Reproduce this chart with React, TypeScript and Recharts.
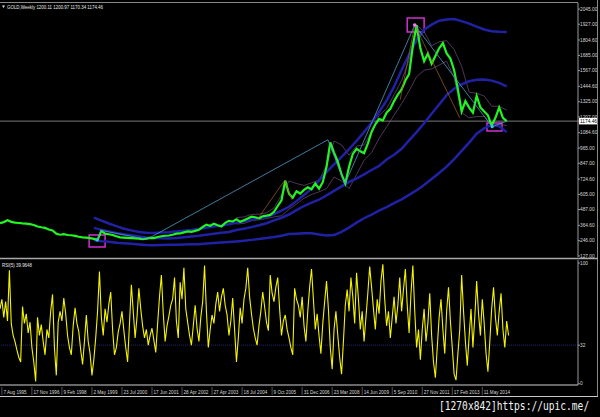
import React from "react";
import {
  ComposedChart,
  Line,
  XAxis,
  YAxis,
  ReferenceLine,
  ReferenceArea,
  ReferenceDot,
} from "recharts";

// weekly gold, one sample every 8 bars
const PRICE_STEP = 8;
const priceClose = [
  382, 390, 404, 392, 386, 383, 380, 378, 374, 368, 356, 350, 345, 332, 325, 300,
  292, 296, 290, 288, 283, 276, 272, 270, 266, 260, 252, 322, 300, 296, 290, 280,
  272, 270, 268, 266, 264, 262, 258, 262, 268, 266, 274, 280, 284, 286, 292, 300,
  302, 310, 318, 314, 322, 330, 352, 370, 362, 378, 366, 356, 384, 400, 395, 412,
  392, 405, 418, 432, 428, 420, 436, 440, 446, 470, 515, 560, 712, 610, 580, 630,
  612, 640, 660, 645, 690, 650, 700, 820, 1010, 930, 860, 760, 690, 820, 920, 960,
  940, 925, 1000, 1090, 1150, 1190, 1180, 1240, 1270, 1330, 1380, 1420, 1490, 1540, 1760, 1920,
  1740, 1640, 1700, 1620, 1680, 1740, 1780, 1700, 1660, 1570, 1420, 1250, 1330, 1280, 1240, 1370,
  1280, 1250, 1220, 1140, 1200, 1280, 1200, 1174,
];

// long bands (thick blue), every 16 bars from bar 200
const BAND_START = 200;
const BAND_STEP = 16;
const bandUpper = [
  425, 402, 379, 359, 339, 326, 314, 308, 306, 309, 312, 317, 323, 329, 338, 347,
  356, 364, 373, 385, 396, 408, 419, 431, 452, 480, 509, 553, 600, 650, 714, 778,
  839, 897, 956, 1021, 1090, 1159, 1246, 1334, 1442, 1571, 1692, 1803, 1884, 1924, 1955, 1963,
  1967, 1951, 1932, 1909, 1886, 1873, 1868, 1866,
];
const bandMiddle = [
  345, 330, 318, 306, 296, 288, 279, 270, 267, 264, 262, 267, 273, 278, 284, 291,
  299, 307, 314, 328, 339, 351, 365, 381, 403, 424, 449, 483, 515, 541, 564, 598,
  633, 668, 703, 728, 761, 795, 827, 876, 913, 960, 1025, 1089, 1158, 1231, 1304, 1376,
  1426, 1461, 1484, 1496, 1497, 1489, 1472, 1445,
];
const bandLower = [
  251, 242, 237, 230, 225, 221, 217, 213, 211, 213, 214, 215, 217, 218, 219, 223,
  228, 232, 236, 240, 245, 252, 258, 266, 274, 284, 297, 300, 303, 304, 294, 286,
  289, 315, 347, 386, 420, 449, 479, 507, 537, 567, 602, 637, 678, 725, 772, 821,
  879, 944, 1007, 1076, 1118, 1147, 1135, 1089,
];

// short bands (thin lines), every 16 bars from bar 504
const BB20_START = 504;
const bb20Upper = [
  425, 430, 450, 452, 462, 500, 600, 710, 690, 675, 695, 715, 830, 1020, 990, 910,
  980, 990, 1090, 1220, 1270, 1380, 1490, 1650, 1920, 1870, 1760, 1790, 1800, 1730, 1600, 1400,
  1390, 1370, 1290, 1290, 1260,
];
const bb20Lower = [
  375, 380, 400, 408, 418, 430, 440, 490, 530, 575, 605, 625, 650, 740, 710, 650,
  760, 870, 930, 1040, 1130, 1220, 1310, 1410, 1520, 1570, 1580, 1610, 1640, 1510, 1240, 1200,
  1210, 1210, 1150, 1150, 1140,
];

// zigzag swings
const zigzagBars = [207, 215, 313, 699, 735, 884, 1049, 1080];
const zigzagPrices = [252, 326, 256, 1030, 685, 1921, 1131, 1174];
const orangeBarsA = [550, 607, 622];
const orangePricesA = [418, 716, 565];
const orangeBarsB = [853, 884, 980];
const orangePricesB = [1340, 1921, 1200];

// RSI(5), one sample every 4 bars
const RSI_STEP = 4;
const rsiValues = [
  62, 70, 55, 68, 52, 94, 50, 40, 35, 28, 22, 18, 64, 50, 58, 42,
  51, 30, 18, 2, 55, 40, 49, 35, 24, 45, 38, 60, 74, 30, 7, 51,
  60, 52, 71, 58, 40, 30, 24, 48, 63, 50, 43, 28, 16, 35, 57, 35,
  25, 7, 20, 38, 60, 93, 55, 40, 62, 51, 66, 76, 45, 24, 30, 43,
  50, 60, 44, 30, 18, 50, 82, 60, 38, 55, 79, 62, 48, 38, 45, 32,
  40, 46, 36, 26, 50, 72, 90, 58, 35, 48, 56, 65, 70, 88, 52, 38,
  84, 70, 96, 62, 51, 40, 32, 48, 65, 46, 35, 55, 68, 98, 60, 30,
  45, 57, 50, 66, 76, 60, 72, 79, 65, 57, 40, 52, 71, 45, 18, 38,
  63, 50, 70, 79, 96, 72, 58, 46, 38, 32, 48, 60, 76, 64, 51, 44,
  90, 75, 68, 80, 88, 62, 40, 52, 57, 45, 38, 30, 24, 79, 70, 65,
  55, 72, 48, 35, 60, 80, 95, 70, 45, 58, 40, 25, 50, 68, 85, 62,
  30, 12, 45, 60, 40, 22, 8, 35, 65, 78, 60, 88, 72, 50, 92, 70,
  45, 60, 35, 55, 75, 97, 80, 62, 45, 70, 58, 85, 99, 70, 48, 60,
  38, 55, 72, 50, 65, 88, 60, 78, 95, 65, 42, 75, 98, 60, 30, 45,
  20, 45, 62, 35, 50, 75, 40, 18, 5, 30, 55, 70, 45, 25, 60, 80,
  52, 30, 8, 3, 25, 45, 90, 60, 35, 15, 40, 62, 30, 55, 85, 58,
  40, 70, 50, 25, 10, 35, 62, 80, 55, 40, 60, 75, 45, 30, 52, 40,
];

const CURRENT_PRICE = 1174.46;
const priceTicks = [
  2045, 1927, 1804.6, 1685, 1567, 1444.6, 1325, 1207, 1084.6, 965, 847, 724.6,
  605, 487, 364.6, 246, 127,
];
const rsiTicks = [0, 32, 100];
const dateLabels = [
  "7 Aug 1995", "17 Nov 1996", "9 Feb 1998", "2 May 1999", "23 Jul 2000",
  "17 Jun 2001", "28 Apr 2002", "27 Apr 2003", "18 Jul 2004", "9 Oct 2005",
  "31 Dec 2006", "23 Mar 2008", "14 Jun 2009", "5 Sep 2010", "27 Nov 2011",
  "17 Feb 2013", "11 May 2014",
];
const DATE_FIRST = 4;
const DATE_EVERY = 64;
const BAR_DOMAIN: [number, number] = [0, 1232];

const FONT = "'Liberation Sans', Arial, sans-serif";

const priceData = priceClose.map((v, i) => ({ bar: i * PRICE_STEP, v }));
const upperData = bandUpper.map((v, i) => ({ bar: BAND_START + i * BAND_STEP, v }));
const middleData = bandMiddle.map((v, i) => ({ bar: BAND_START + i * BAND_STEP, v }));
const lowerData = bandLower.map((v, i) => ({ bar: BAND_START + i * BAND_STEP, v }));
const bbUpData = bb20Upper.map((v, i) => ({ bar: BB20_START + i * BAND_STEP, v }));
const bbLoData = bb20Lower.map((v, i) => ({ bar: BB20_START + i * BAND_STEP, v }));
const zigzagData = zigzagBars.map((b, i) => ({ bar: b, v: zigzagPrices[i] }));
const orangeDataA = orangeBarsA.map((b, i) => ({ bar: b, v: orangePricesA[i] }));
const orangeDataB = orangeBarsB.map((b, i) => ({ bar: b, v: orangePricesB[i] }));
const rsiData = rsiValues.map((v, i) => ({ bar: i * RSI_STEP, v }));
const dateTicks = dateLabels.map((_, k) => DATE_FIRST + k * DATE_EVERY);

const PriceTick = ({ x, y, payload }: any) => {
  const v = payload.value;
  if (v === CURRENT_PRICE) {
    return (
      <g>
        <rect x={x - 1} y={y - 3.3} width={18} height={6.6} fill="#ffffff" />
        <text x={x} y={y} dy="0.35em" fontSize={4.8} fontFamily={FONT} fill="#000">
          {v.toFixed(2)}
        </text>
      </g>
    );
  }
  return (
    <text x={x} y={y} dy="0.35em" fontSize={4.8} fontFamily={FONT} fill="#d8d8d8">
      {v.toFixed(2)}
    </text>
  );
};

const RsiTick = ({ x, y, payload }: any) => (
  <text x={x} y={y} dy="0.35em" fontSize={4.8} fontFamily={FONT} fill="#d8d8d8">
    {payload.value}
  </text>
);

const DateTick = ({ x, y, payload }: any) => {
  const label = dateLabels[Math.round((payload.value - DATE_FIRST) / DATE_EVERY)];
  return (
    <g>
      <line x1={x} x2={x} y1={y + 2} y2={y + 10} stroke="#8c8c8c" strokeWidth={0.6} />
      <text x={x + 1.5} y={y + 8.5} fontSize={4.6} fontFamily={FONT} fill="#d8d8d8">
        {label}
      </text>
    </g>
  );
};

const thinLine = (data: any[], stroke: string, width: number) => (
  <Line
    data={data}
    dataKey="v"
    stroke={stroke}
    strokeWidth={width}
    dot={false}
    isAnimationActive={false}
  />
);

const App: React.FC = () => {
  return (
    <div
      style={{
        position: "fixed",
        left: 0,
        top: 0,
        width: 600,
        height: 417,
        background: "#000",
        overflow: "hidden",
      }}
    >
      <div style={{ position: "absolute", left: 0, top: 0 }}>
        <ComposedChart width={600} height={258} margin={{ top: 3, right: 0, bottom: 1, left: 0 }}>
          <XAxis
            dataKey="bar"
            type="number"
            domain={BAR_DOMAIN}
            allowDataOverflow
            hide
          />
          <YAxis
            orientation="right"
            width={22}
            domain={[119, 2092]}
            allowDataOverflow
            ticks={[...priceTicks, CURRENT_PRICE]}
            interval={0}
            tick={<PriceTick />}
            tickSize={2}
            tickMargin={0}
            tickLine={{ stroke: "#9a9a9a" }}
            axisLine={{ stroke: "#9a9a9a" }}
          />
          <ReferenceLine y={CURRENT_PRICE} stroke="#7a7a7a" strokeWidth={1} />
          {thinLine(bbUpData, "#6e4f7e", 0.7)}
          {thinLine(bbLoData, "#6e4f7e", 0.7)}
          <Line data={upperData} dataKey="v" stroke="#2121a6" strokeWidth={2.5} dot={false} isAnimationActive={false} />
          <Line data={middleData} dataKey="v" stroke="#2121a6" strokeWidth={2.5} dot={false} isAnimationActive={false} />
          <Line data={lowerData} dataKey="v" stroke="#2121a6" strokeWidth={2.5} dot={false} isAnimationActive={false} />
          <Line data={priceData} dataKey="v" stroke="#22f522" strokeWidth={2.2} dot={false} isAnimationActive={false} />
          {thinLine(orangeDataA, "#a8602a", 0.7)}
          {thinLine(orangeDataB, "#a8602a", 0.7)}
          {thinLine(zigzagData, "#4f9cc4", 0.8)}
          <ReferenceArea x1={190} x2={224} y1={196} y2={289} fill="none" stroke="#d030d0" strokeWidth={1.5} />
          <ReferenceArea x1={868} x2={904} y1={1866} y2={1975} fill="none" stroke="#d030d0" strokeWidth={1.5} />
          <ReferenceArea x1={1038} x2={1070} y1={1097} y2={1159} fill="none" stroke="#d030d0" strokeWidth={1.5} />
          <ReferenceDot x={207} y={252} r={1.6} fill="#40c0e0" stroke="none" />
          <ReferenceDot x={884} y={1921} r={1.8} fill="#ff70ff" stroke="none" />
          <ReferenceDot x={1049} y={1131} r={1.6} fill="#40c0e0" stroke="none" />
        </ComposedChart>
      </div>

      <div style={{ position: "absolute", left: 0, top: 258 }}>
        <ComposedChart width={600} height={140} margin={{ top: 2, right: 0, bottom: 1, left: 0 }}>
          <XAxis
            dataKey="bar"
            type="number"
            domain={BAR_DOMAIN}
            allowDataOverflow
            ticks={dateTicks}
            interval={0}
            height={12}
            tick={<DateTick />}
            tickSize={0}
            tickMargin={0}
            axisLine={{ stroke: "#d0d0d0" }}
          />
          <YAxis
            orientation="right"
            width={22}
            domain={[-1, 102.5]}
            allowDataOverflow
            ticks={rsiTicks}
            interval={0}
            tick={<RsiTick />}
            tickSize={2}
            tickMargin={0}
            tickLine={{ stroke: "#9a9a9a" }}
            axisLine={{ stroke: "#9a9a9a" }}
          />
          <ReferenceLine y={32} stroke="#23237a" strokeDasharray="1 1" strokeWidth={1} />
          <Line data={rsiData} dataKey="v" stroke="#f4f400" strokeWidth={1.1} dot={false} isAnimationActive={false} />
        </ComposedChart>
      </div>

      <svg
        width={600}
        height={417}
        style={{ position: "absolute", left: 0, top: 0, pointerEvents: "none" }}
      >
        <line x1={0} x2={578} y1={2.5} y2={2.5} stroke="#8a8a8a" strokeWidth={1} />
        <line x1={597.5} x2={597.5} y1={0} y2={397} stroke="#8a8a8a" strokeWidth={1} />
        <line x1={0} x2={598} y1={258.5} y2={258.5} stroke="#a8a8a8" strokeWidth={1.6} />
        <line x1={0} x2={598} y1={396.5} y2={396.5} stroke="#c8c8c8" strokeWidth={1} />
        <polygon points="2,5.5 5,5.5 3.5,8" fill="#e0e0e0" />
        <text x={7} y={8.6} fontSize={4.8} fontFamily={FONT} fill="#e8e8e8" textLength={96} lengthAdjust="spacingAndGlyphs">
          GOLD,Weekly  1200.11 1200.97 1170.34 1174.46
        </text>
        <text x={2} y={267} fontSize={4.6} fontFamily={FONT} fill="#e8e8e8" textLength={30} lengthAdjust="spacingAndGlyphs">
          RSI(5) 39.9648
        </text>
        <rect x={432} y={397.5} width={168} height={20} fill="#000" />
        <g transform="translate(439,410) scale(1,1.25)">
          <text
            x={0}
            y={0}
            fontSize={9.6}
            fontFamily="'DejaVu Sans Mono', monospace"
            fill="#f2f2f2"
          >
            [1270x842]https://upic.me/
          </text>
        </g>
      </svg>
    </div>
  );
};

export default App;
